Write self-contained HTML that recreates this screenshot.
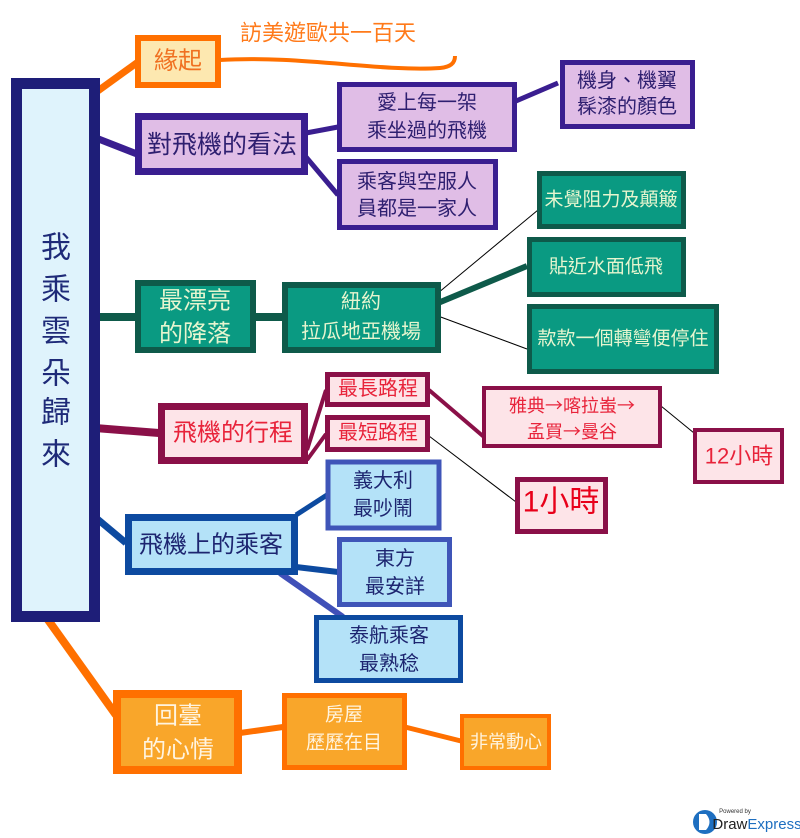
<!DOCTYPE html>
<html><head><meta charset="utf-8">
<style>
html,body{margin:0;padding:0;background:#fff;}
svg{display:block;}
text{font-family:"Liberation Sans","Noto Sans CJK TC","Noto Sans CJK SC",sans-serif;text-anchor:middle;dominant-baseline:central;}
.cjk{font-family:"Noto Sans CJK TC",sans-serif;}
</style></head>
<body>
<svg width="800" height="838" viewBox="0 0 800 838" xmlns="http://www.w3.org/2000/svg">
<g fill="none" stroke-linecap="butt">
<line x1="95" y1="93" x2="138" y2="62" stroke="#ff7000" stroke-width="7"/>
<path d="M220 60 C 300 55, 380 72, 440 68 C 452 67, 455 62, 455 56" stroke="#ff7000" stroke-width="4"/>
<line x1="96" y1="138" x2="137" y2="154" stroke="#3a1e90" stroke-width="7"/>
<line x1="306" y1="133" x2="338" y2="127" stroke="#3a1e90" stroke-width="5"/>
<line x1="306" y1="157" x2="338" y2="195" stroke="#3a1e90" stroke-width="5"/>
<line x1="516" y1="101" x2="558" y2="83" stroke="#3a1e90" stroke-width="5"/>
<line x1="96" y1="317" x2="136" y2="317" stroke="#0e5a4a" stroke-width="8"/>
<line x1="254" y1="317" x2="283" y2="317" stroke="#0e5a4a" stroke-width="8"/>
<line x1="438" y1="293" x2="538" y2="210" stroke="#000" stroke-width="1"/>
<line x1="438" y1="303" x2="527" y2="266" stroke="#0e5a4a" stroke-width="6"/>
<line x1="438" y1="316" x2="527" y2="349" stroke="#000" stroke-width="1"/>
<line x1="95" y1="428" x2="159" y2="433" stroke="#8a1048" stroke-width="8"/>
<line x1="307" y1="450" x2="326" y2="390" stroke="#8a1048" stroke-width="4"/>
<line x1="307" y1="460" x2="326" y2="434" stroke="#8a1048" stroke-width="4"/>
<line x1="429" y1="390" x2="484" y2="437" stroke="#8a1048" stroke-width="4"/>
<line x1="661" y1="406" x2="694" y2="433" stroke="#000" stroke-width="1"/>
<line x1="429" y1="436" x2="516" y2="502" stroke="#000" stroke-width="1"/>
<line x1="95" y1="517" x2="126" y2="543" stroke="#0d4aa0" stroke-width="7"/>
<line x1="296" y1="515" x2="327" y2="495" stroke="#0d4aa0" stroke-width="5"/>
<line x1="296" y1="567" x2="338" y2="572" stroke="#0d4aa0" stroke-width="6"/>
<line x1="280" y1="573" x2="343" y2="617" stroke="#4050b8" stroke-width="6"/>
<line x1="46" y1="617" x2="116" y2="715" stroke="#ff7000" stroke-width="8"/>
<line x1="240" y1="733" x2="283" y2="727" stroke="#ff7000" stroke-width="6"/>
<line x1="405" y1="727" x2="461" y2="741" stroke="#ff7000" stroke-width="5"/>
</g>

<rect x="16.5" y="83.5" width="78" height="533" fill="#dff3fc" stroke="#1e1e78" stroke-width="11"/>
<g fill="#1e2a78" font-size="30">
<text x="56" y="248">我</text><text x="56" y="290">乘</text><text x="56" y="332">雲</text>
<text x="56" y="374">朵</text><text x="56" y="413">歸</text><text x="56" y="455">來</text>
</g>

<rect x="138" y="38" width="80" height="47" fill="#fde8b0" stroke="#ff7000" stroke-width="6"/>
<text x="178" y="61" font-size="24" fill="#f07020">緣起</text>
<text x="328" y="33" font-size="22" fill="#ff7a1a">訪美遊歐共一百天</text>

<rect x="138.5" y="116.5" width="166" height="55" fill="#e0bde6" stroke="#3a1e90" stroke-width="7"/>
<text x="222" y="145" font-size="25" fill="#2e1f70">對飛機的看法</text>
<rect x="339.5" y="84.5" width="175" height="65" fill="#e0bde6" stroke="#3a1e90" stroke-width="5"/>
<text x="427" y="103" font-size="20" fill="#2e1f70">愛上每一架</text>
<text x="427" y="131" font-size="20" fill="#2e1f70">乘坐過的飛機</text>
<rect x="562.5" y="62.5" width="130" height="64" fill="#e0bde6" stroke="#3a1e90" stroke-width="5"/>
<text x="627" y="81" font-size="20" fill="#2e1f70">機身、機翼</text>
<text x="627" y="107" font-size="20" fill="#2e1f70">髹漆的顏色</text>
<rect x="339.5" y="161.5" width="156" height="66" fill="#e0bde6" stroke="#3a1e90" stroke-width="5"/>
<text x="417" y="182" font-size="20" fill="#2e1f70">乘客與空服人</text>
<text x="417" y="209" font-size="20" fill="#2e1f70">員都是一家人</text>

<rect x="138" y="283" width="115" height="67" fill="#0a9a82" stroke="#0e5a4a" stroke-width="6"/>
<text x="195" y="301" font-size="24" fill="#e6f5cf">最漂亮</text>
<text x="195" y="334" font-size="24" fill="#e6f5cf">的降落</text>
<rect x="285" y="285" width="153" height="65" fill="#0a9a82" stroke="#0e5a4a" stroke-width="6"/>
<text x="361" y="302" font-size="20" fill="#e6f5cf">紐約</text>
<text x="361" y="332" font-size="20" fill="#e6f5cf">拉瓜地亞機場</text>
<rect x="539.5" y="173.5" width="144" height="53" fill="#0a9a82" stroke="#0e5a4a" stroke-width="5"/>
<text x="611" y="200" font-size="19" fill="#e6f5cf">未覺阻力及顛簸</text>
<rect x="529.5" y="239.5" width="154" height="55" fill="#0a9a82" stroke="#0e5a4a" stroke-width="5"/>
<text x="606" y="267" font-size="19" fill="#e6f5cf">貼近水面低飛</text>
<rect x="529.5" y="306.5" width="187" height="65" fill="#0a9a82" stroke="#0e5a4a" stroke-width="5"/>
<text x="623" y="339" font-size="19" fill="#e6f5cf">款款一個轉彎便停住</text>

<rect x="161.5" y="406.5" width="143" height="54" fill="#fde4e8" stroke="#8a1048" stroke-width="7"/>
<text x="233" y="433" font-size="24" fill="#e8233a">飛機的行程</text>
<rect x="327.5" y="374.5" width="100" height="30" fill="#fde4e8" stroke="#8a1048" stroke-width="5"/>
<text x="378" y="389" font-size="20" fill="#e8233a">最長路程</text>
<rect x="327.5" y="417.5" width="100" height="32" fill="#fde4e8" stroke="#8a1048" stroke-width="5"/>
<text x="378" y="433" font-size="20" fill="#e8233a">最短路程</text>
<rect x="484" y="388" width="176" height="58" fill="#fde4e8" stroke="#8a1048" stroke-width="4"/>
<text x="572" y="405" font-size="18" fill="#e8233a" class="cjk">雅典→喀拉蚩→</text>
<text x="572" y="431" font-size="18" fill="#e8233a" class="cjk">孟買→曼谷</text>
<rect x="695" y="430" width="87" height="52" fill="#fde4e8" stroke="#8a1048" stroke-width="4"/>
<text x="739" y="456" font-size="22" fill="#e8233a">12小時</text>
<rect x="517.5" y="479.5" width="88" height="52" fill="#fde4e8" stroke="#8a1048" stroke-width="5"/>
<text x="561" y="502" font-size="30" fill="#e8001a">1小時</text>

<rect x="128.5" y="517.5" width="166" height="54" fill="#b4e2f8" stroke="#0d4aa0" stroke-width="7"/>
<text x="211" y="545" font-size="24" fill="#1d2570">飛機上的乘客</text>
<rect x="328" y="462" width="111" height="66" fill="#b4e2f8" stroke="#3f55b8" stroke-width="5"/>
<text x="383" y="481" font-size="20" fill="#1d2570">義大利</text>
<text x="383" y="509" font-size="20" fill="#1d2570">最吵鬧</text>
<rect x="339.5" y="539.5" width="110" height="65" fill="#b4e2f8" stroke="#3f55b8" stroke-width="5"/>
<text x="395" y="559" font-size="20" fill="#1d2570">東方</text>
<text x="395" y="587" font-size="20" fill="#1d2570">最安詳</text>
<rect x="316.5" y="617.5" width="144" height="63" fill="#b4e2f8" stroke="#0d4aa0" stroke-width="5"/>
<text x="389" y="636" font-size="20" fill="#1d2570">泰航乘客</text>
<text x="389" y="664" font-size="20" fill="#1d2570">最熟稔</text>

<rect x="117" y="694" width="121" height="76" fill="#f9a62a" stroke="#ff7000" stroke-width="8"/>
<text x="178" y="716" font-size="24" fill="#fff4e0">回臺</text>
<text x="178" y="750" font-size="24" fill="#fff4e0">的心情</text>
<rect x="284.5" y="695.5" width="120" height="72" fill="#f9a62a" stroke="#ff7000" stroke-width="5"/>
<text x="344" y="715" font-size="19" fill="#fff4e0">房屋</text>
<text x="344" y="743" font-size="19" fill="#fff4e0">歷歷在目</text>
<rect x="462" y="716" width="87" height="52" fill="#f9a62a" stroke="#ff7000" stroke-width="4"/>
<text x="506" y="742" font-size="18" fill="#fff4e0">非常動心</text>

<circle cx="705" cy="822" r="12" fill="#1e6fc0"/>
<path d="M699 814 L706 814 Q713 822 706 830 L699 830 Z" fill="#fff"/>
<text x="735" y="812" font-size="6" fill="#333">Powered by</text>
<text x="757" y="824" font-size="15" fill="#222"><tspan>Draw</tspan><tspan fill="#1e6fc0">Express</tspan></text>
</svg>
</body></html>
